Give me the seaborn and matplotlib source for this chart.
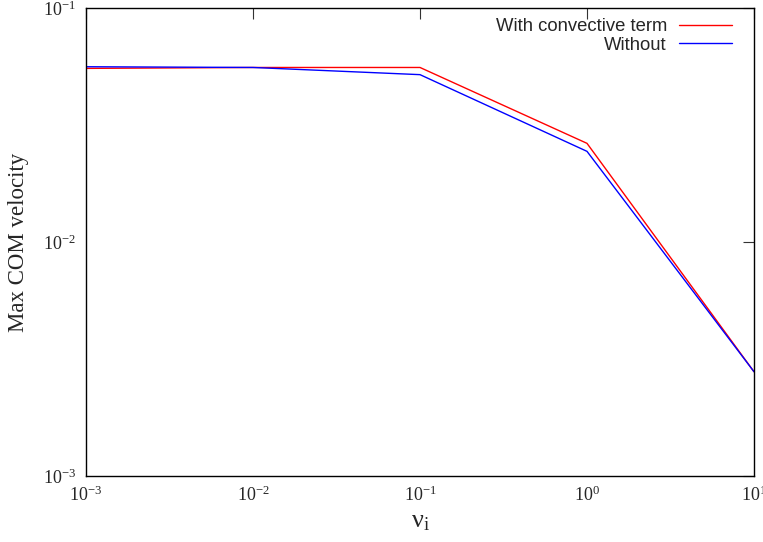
import numpy as np
import pandas as pd
import matplotlib
matplotlib.use("Agg")
import matplotlib.pyplot as plt
import seaborn as sns
from matplotlib.ticker import LogLocator, NullLocator, FuncFormatter
from matplotlib.lines import Line2D

nu_i = [1e-3, 1e-2, 1e-1, 1e0, 1e1]
with_conv = [0.0552, 0.0557, 0.0557, 0.0264, 0.00279]
without = [0.0561, 0.0557, 0.0519, 0.0244, 0.00279]
series_names = ["With convective term", "Without"]
colors = ["#ff0000", "#0000ff"]

df = pd.DataFrame({
    "nu": nu_i * 2,
    "v": with_conv + without,
    "series": [series_names[0]] * len(nu_i) + [series_names[1]] * len(nu_i),
})

sns.set_style("white")
plt.rcParams['font.family'] = ['Liberation Serif', 'DejaVu Serif']
plt.rcParams['mathtext.fontset'] = 'custom'
plt.rcParams['mathtext.rm'] = 'Liberation Serif'
plt.rcParams['mathtext.it'] = 'Liberation Serif:italic'

fig = plt.figure(figsize=(7.63, 5.42), dpi=100)
ax = fig.add_axes([86/763, 1 - 476/542, (754 - 86)/763, (476 - 8)/542])

sns.lineplot(data=df, x="nu", y="v", hue="series", palette=colors,
             hue_order=series_names, ax=ax, linewidth=1.0, legend=False,
             estimator=None, sort=False)

ax.set_xscale("log")
ax.set_yscale("log")
ax.set_xlim(1e-3, 1e1)
ax.set_ylim(1e-3, 1e-1)
ax.xaxis.set_major_locator(LogLocator(base=10, numticks=10))
ax.yaxis.set_major_locator(LogLocator(base=10, numticks=10))
ax.xaxis.set_minor_locator(NullLocator())
ax.yaxis.set_minor_locator(NullLocator())

def fmt(v, pos):
    e = int(round(np.log10(v)))
    return r"$\mathregular{10^{%d}}$" % e
ax.xaxis.set_major_formatter(FuncFormatter(fmt))
ax.yaxis.set_major_formatter(FuncFormatter(fmt))

ax.tick_params(axis="both", which="major", direction="in", length=8, width=0.8,
               top=True, right=True, labelsize=13, pad=7, color="#333333")
for s in ax.spines.values():
    s.set_color("black")
    s.set_linewidth(1.0)

ax.set_xlabel(r"$\mathregular{\nu_i}$", fontsize=19, labelpad=4)
ax.set_ylabel("Max COM velocity", fontsize=16.5, labelpad=10)

handles = [Line2D([], [], color=c, lw=1.0) for c in colors]
leg = ax.legend(handles, series_names, loc="upper right", frameon=False,
                markerfirst=False, prop={"family": "Liberation Sans", "size": 13.3},
                handlelength=2.87, handletextpad=0.65, labelspacing=0.1,
                borderaxespad=0.0, borderpad=0.0,
                bbox_to_anchor=((732 - 86) / 668, (476 - 18) / 468))

fig.savefig("out.png", dpi=100)
